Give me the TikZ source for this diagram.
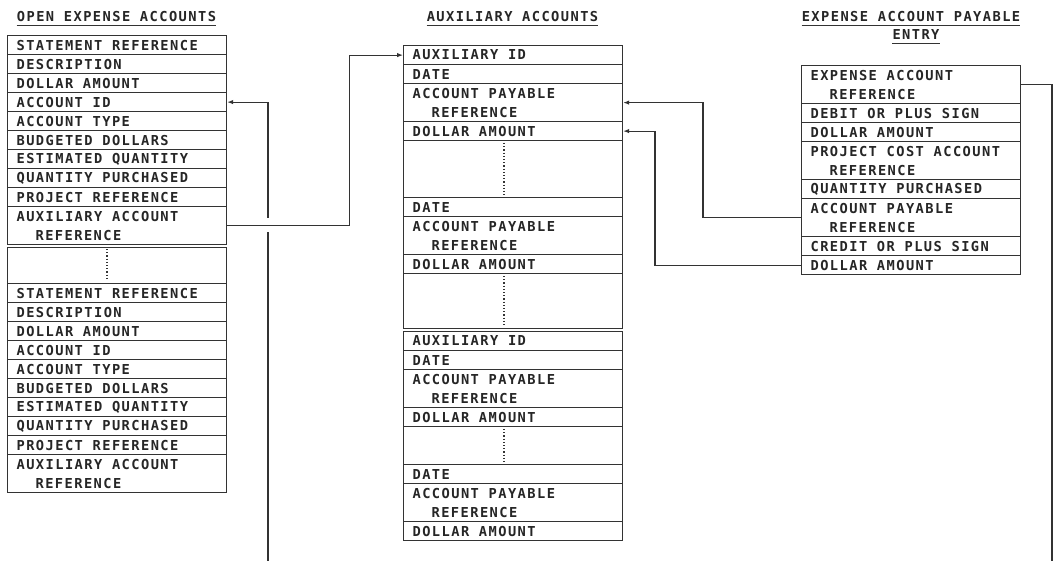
\documentclass[tikz,border=0pt]{standalone}
\usepackage{fontspec}
\usetikzlibrary{arrows.meta}
\newfontfamily\fldfont{DejaVu Sans Mono}[LetterSpace=10.5]
\newcommand\fldf{\fldfont\bfseries\fontsize{13.7}{19}\selectfont}
\newcommand\ind{\\\hspace*{19pt}}
\definecolor{ink}{HTML}{333333}
\definecolor{txt}{HTML}{262626}
\begin{document}
\begin{tikzpicture}[x=1pt,y=-1pt,
  fld/.style={draw=ink, line width=1.2pt, anchor=north west, minimum width=219pt,
    minimum height=19pt, inner xsep=9pt, inner ysep=0pt, text width=201pt,
    align=flush left, font=\fldf, text=txt},
  fld2/.style={fld, minimum height=38pt},
  gapbox/.style={draw=ink, line width=1.2pt, anchor=north west, minimum width=219pt, inner sep=0pt},
  ttl/.style={font=\fldf, text=txt, inner sep=0pt, anchor=center},
  ul/.style={draw=ink, line width=1.1pt},
  dots/.style={draw=ink, line width=1.2pt, dash pattern=on 1.2pt off 2pt},
  conn/.style={draw=ink, line width=1.1pt},
  tip/.style={-{Latex[length=6pt,width=4.5pt]}}
]
\useasboundingbox[fill=white] (0,0) rectangle (1056,561);

% titles
\node[ttl] (t1) at (116.5,17) {OPEN EXPENSE ACCOUNTS};
\node[ttl] (t2) at (512.5,17) {AUXILIARY ACCOUNTS};
\node[ttl] (t3) at (911,17) {EXPENSE ACCOUNT PAYABLE};
\node[ttl] (t4) at (916,35) {ENTRY};
\foreach \t in {t1,t2,t3,t4}
  \draw[ul] ([yshift=-3pt]\t.south west) -- ([yshift=-3pt]\t.south east);

% open expense accounts
\node[fld]  (oa1) at (7,35)  {STATEMENT REFERENCE};
\node[fld]  (ob1) at (7,54)  {DESCRIPTION};
\node[fld]  (oc1) at (7,73)  {DOLLAR AMOUNT};
\node[fld]  (od1) at (7,92)  {ACCOUNT ID};
\node[fld]  (oe1) at (7,111) {ACCOUNT TYPE};
\node[fld]  (of1) at (7,130) {BUDGETED DOLLARS};
\node[fld]  (og1) at (7,149) {ESTIMATED QUANTITY};
\node[fld]  (oh1) at (7,168) {QUANTITY PURCHASED};
\node[fld]  (oi1) at (7,187) {PROJECT REFERENCE};
\node[fld2] (oj1) at (7,206) {AUXILIARY ACCOUNT\ind REFERENCE};
\node[gapbox, minimum height=36pt] (ogap) at (7,247) {};
\draw[dots] (107,249) -- (107,280);
\node[fld]  (oa2) at (7,283) {STATEMENT REFERENCE};
\node[fld]  (ob2) at (7,302) {DESCRIPTION};
\node[fld]  (oc2) at (7,321) {DOLLAR AMOUNT};
\node[fld]  (od2) at (7,340) {ACCOUNT ID};
\node[fld]  (oe2) at (7,359) {ACCOUNT TYPE};
\node[fld]  (of2) at (7,378) {BUDGETED DOLLARS};
\node[fld]  (og2) at (7,397) {ESTIMATED QUANTITY};
\node[fld]  (oh2) at (7,416) {QUANTITY PURCHASED};
\node[fld]  (oi2) at (7,435) {PROJECT REFERENCE};
\node[fld2] (oj2) at (7,454) {AUXILIARY ACCOUNT\ind REFERENCE};

% auxiliary accounts
\node[fld]  (ma1) at (403,45)  {AUXILIARY ID};
\node[fld]  (mb1) at (403,64)  {DATE};
\node[fld2] (mc1) at (403,83)  {ACCOUNT PAYABLE\ind REFERENCE};
\node[fld]  (md1) at (403,121) {DOLLAR AMOUNT};
\node[gapbox, minimum height=57pt] (mg1) at (403,140) {};
\draw[dots] (504,143) -- (504,195);
\node[fld]  (mb2) at (403,197) {DATE};
\node[fld2] (mc2) at (403,216) {ACCOUNT PAYABLE\ind REFERENCE};
\node[fld]  (md2) at (403,254) {DOLLAR AMOUNT};
\node[gapbox, minimum height=55pt] (mg2) at (403,273) {};
\draw[dots] (504,276) -- (504,325);
\node[fld]  (ma3) at (403,331) {AUXILIARY ID};
\node[fld]  (mb3) at (403,350) {DATE};
\node[fld2] (mc3) at (403,369) {ACCOUNT PAYABLE\ind REFERENCE};
\node[fld]  (md3) at (403,407) {DOLLAR AMOUNT};
\node[gapbox, minimum height=38pt] (mg3) at (403,426) {};
\draw[dots] (504,429) -- (504,462);
\node[fld]  (mb4) at (403,464) {DATE};
\node[fld2] (mc4) at (403,483) {ACCOUNT PAYABLE\ind REFERENCE};
\node[fld]  (md4) at (403,521) {DOLLAR AMOUNT};

% expense account payable entry
\node[fld2] (ra) at (801,65)  {EXPENSE ACCOUNT\ind REFERENCE};
\node[fld]  (rb) at (801,103) {DEBIT OR PLUS SIGN};
\node[fld]  (rc) at (801,122) {DOLLAR AMOUNT};
\node[fld2] (rd) at (801,141) {PROJECT COST ACCOUNT\ind REFERENCE};
\node[fld]  (re) at (801,179) {QUANTITY PURCHASED};
\node[fld2] (rf) at (801,198) {ACCOUNT PAYABLE\ind REFERENCE};
\node[fld]  (rg) at (801,236) {CREDIT OR PLUS SIGN};
\node[fld]  (rh) at (801,255) {DOLLAR AMOUNT};

% connectors
\coordinate (bl) at (268,561);
\coordinate (br) at (1052,561);
\draw[conn, tip] (bl) |- (od1.east);
\fill[white] (264,218) rectangle (272,232);
\draw[conn, tip] (oj1.east) -- ++(122,0) |- (ma1.west);
\draw[conn, tip] (rf.west) -- ++(-98,0) |- (mc1.east);
\draw[conn, tip] (rh.west) -- ++(-146,0) |- (md1.east);
\draw[conn] (ra.east) -| (br);
\end{tikzpicture}
\end{document}
